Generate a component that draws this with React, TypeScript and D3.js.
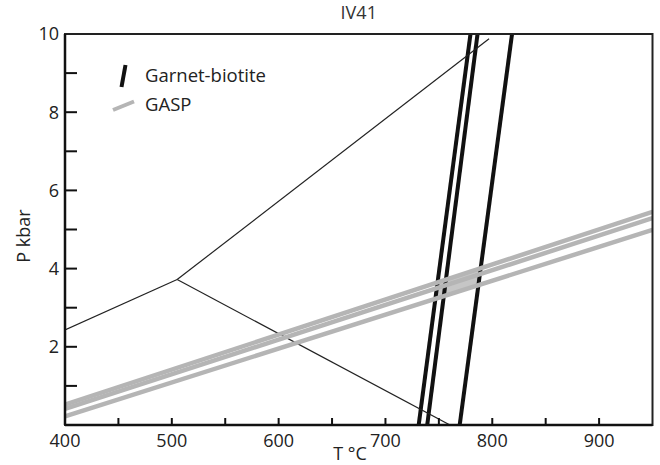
import React from "react";
import * as d3 from "d3";

const title = "IV41";
const xTickLabels = [400, 500, 600, 700, 800, 900];
const xMinorTicks = [450, 500, 550, 600, 650, 700, 750, 800, 850, 900];
const yTickLabels = [2, 4, 6, 8, 10];
const yMinorTicks = [1, 2, 3, 4, 5, 6, 7, 8, 9];

// Thin reaction lines [T, P]
const thinLeft: [number, number][] = [[400, 2.43], [505, 3.72]];
const thinUpper: [number, number][] = [[505, 3.72], [797, 9.88]];
const thinLower: [number, number][] = [[505, 3.72], [760.4, 0]];

// Garnet-biotite isopleths: T at P=0 and at P=10
const gbBottomT = [731.1, 739.1, 769.5];
const gbTopT = [779.6, 786.2, 818.5];

// GASP lines: P at T=400 and at T=950
const gaspLeftP = [0.52, 0.41, 0.22];
const gaspRightP = [5.45, 5.29, 4.99];

const W = 660, H = 465;
const left = 65, right = 652.5, top = 34, bottom = 425;
const FONT = "'Open Sans', sans-serif";

export default function App() {
  const x = d3.scaleLinear().domain([400, 950]).range([left, right]);
  const y = d3.scaleLinear().domain([0, 10]).range([bottom, top]);
  const line = d3.line<[number, number]>().x(d => x(d[0])).y(d => y(d[1]));

  const gb = gbBottomT.map((t0, i) => [[t0, 0], [gbTopT[i], 10]] as [number, number][]);
  const gasp = gaspLeftP.map((p0, i) => [[400, p0], [950, gaspRightP[i]]] as [number, number][]);

  const inter = (a: [number, number][], b: [number, number][]): [number, number] => {
    const t0 = a[0][0], t1 = a[1][0];
    const p0 = b[0][1], p1 = b[1][1];
    const k = (p1 - p0) / 550;
    const m = (t1 - t0) / 10;
    const P = (p0 + k * (t0 - 400)) / (1 - k * m);
    const T = t0 + m * P;
    return [T, P];
  };
  const quad = [
    inter(gb[0], gasp[0]),
    inter(gb[2], gasp[0]),
    inter(gb[2], gasp[2]),
    inter(gb[0], gasp[2]),
  ];

  return (
    <svg width={W} height={H} style={{ position: "absolute", left: 0, top: 0, background: "#fff" }}>
      <defs>
        <clipPath id="plot">
          <rect x={left} y={top} width={right - left} height={bottom - top} />
        </clipPath>
      </defs>
      <g clipPath="url(#plot)">
        <path d={line(quad)! + "Z"} fill="#c6c6c6" />
        {gb.map((d, i) => (
          <path key={"gb" + i} d={line(d)!} stroke="#111" strokeWidth={4} fill="none" />
        ))}
        {[thinLeft, thinUpper, thinLower].map((d, i) => (
          <path key={"th" + i} d={line(d)!} stroke="#222" strokeWidth={1.2} fill="none" />
        ))}
        {gasp.map((d, i) => (
          <path key={"ga" + i} d={line(d)!} stroke="#b5b5b5" strokeWidth={4.5} fill="none" />
        ))}
      </g>
      <rect x={left} y={top} width={right - left} height={bottom - top} fill="none" stroke="#222" strokeWidth={2} />
      <line x1={left} x2={right} y1={bottom} y2={bottom} stroke="#111" strokeWidth={2.5} />
      <line x1={left} x2={left} y1={top} y2={bottom} stroke="#111" strokeWidth={2.5} />
      {xMinorTicks.map(t => (
        <line key={"xt" + t} x1={x(t)} x2={x(t)} y1={bottom} y2={bottom - 7} stroke="#111" strokeWidth={2} />
      ))}
      {xTickLabels.map(t => (
        <text key={"xl" + t} x={x(t)} y={447} textAnchor="middle" fontFamily={FONT} fontSize={18} fill="#222">{t}</text>
      ))}
      {yMinorTicks.map(t => (
        <line key={"yt" + t} x1={left} x2={left + 12} y1={y(t)} y2={y(t)} stroke="#111" strokeWidth={2} />
      ))}
      {yTickLabels.map(t => (
        <text key={"yl" + t} x={59} y={y(t) + 6.3} textAnchor="end" fontFamily={FONT} fontSize={18} fill="#222">{t}</text>
      ))}
      <text x={(left + right) / 2} y={19} textAnchor="middle" fontFamily={FONT} fontSize={18} fill="#333">{title}</text>
      <text x={350} y={460} textAnchor="middle" fontFamily={FONT} fontSize={18} fill="#222">T °C</text>
      <text transform="translate(30,236) rotate(-90)" textAnchor="middle" fontFamily={FONT} fontSize={18} fill="#222">P kbar</text>
      <line x1={121.5} y1={87} x2={125.5} y2={65} stroke="#111" strokeWidth={4} />
      <text x={145} y={82} fontFamily={FONT} fontSize={18.5} fill="#222">Garnet-biotite</text>
      <line x1={113} y1={110} x2={134} y2={101.5} stroke="#b5b5b5" strokeWidth={4} />
      <text x={145} y={111} fontFamily={FONT} fontSize={18.5} fill="#222">GASP</text>
    </svg>
  );
}
